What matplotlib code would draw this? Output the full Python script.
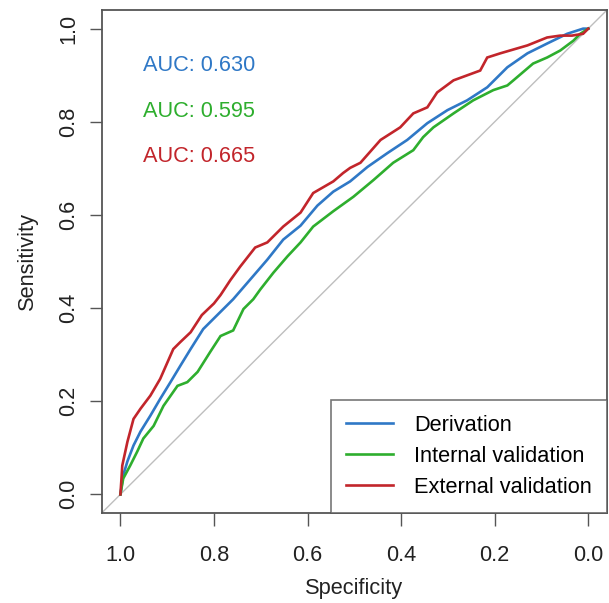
import matplotlib
matplotlib.use("Agg")
import matplotlib.pyplot as plt

plt.rcParams['font.family'] = ['Liberation Sans', 'DejaVu Sans']

# ---- data ----
spec_der = [1.0, 0.994, 0.985, 0.972, 0.957, 0.936, 0.915, 0.893, 0.872, 0.850, 0.823, 0.793,
            0.759, 0.722, 0.686, 0.652, 0.615, 0.579, 0.545, 0.509, 0.472, 0.429, 0.387, 0.344,
            0.301, 0.259, 0.216, 0.173, 0.130, 0.088, 0.045, 0.011, 0.0]
sens_der = [0.0, 0.041, 0.071, 0.105, 0.135, 0.169, 0.205, 0.241, 0.276, 0.312, 0.355, 0.385,
            0.419, 0.462, 0.504, 0.547, 0.577, 0.620, 0.650, 0.672, 0.703, 0.733, 0.761, 0.797,
            0.825, 0.846, 0.874, 0.917, 0.947, 0.968, 0.989, 1.0, 1.0]

spec_int = [1.0, 0.994, 0.979, 0.964, 0.951, 0.929, 0.908, 0.878, 0.857, 0.835, 0.808, 0.786,
            0.759, 0.737, 0.716, 0.701, 0.673, 0.643, 0.615, 0.588, 0.545, 0.502, 0.459, 0.417,
            0.374, 0.353, 0.331, 0.288, 0.246, 0.203, 0.173, 0.160, 0.118, 0.088, 0.060, 0.032,
            0.017, 0.0]
sens_int = [0.0, 0.034, 0.062, 0.092, 0.120, 0.147, 0.190, 0.233, 0.241, 0.263, 0.306, 0.340,
            0.352, 0.398, 0.419, 0.440, 0.476, 0.511, 0.541, 0.575, 0.608, 0.639, 0.675, 0.712,
            0.739, 0.767, 0.788, 0.818, 0.846, 0.868, 0.878, 0.889, 0.925, 0.938, 0.953, 0.974,
            0.989, 1.0]

spec_ext = [1.0, 0.998, 0.996, 0.985, 0.972, 0.957, 0.936, 0.915, 0.887, 0.872, 0.850, 0.826,
            0.800, 0.786, 0.765, 0.744, 0.712, 0.686, 0.652, 0.615, 0.588, 0.545, 0.524, 0.509,
            0.487, 0.444, 0.402, 0.374, 0.344, 0.323, 0.288, 0.231, 0.216, 0.188, 0.130, 0.088,
            0.060, 0.035, 0.011, 0.0]
sens_ext = [0.0, 0.030, 0.062, 0.113, 0.162, 0.184, 0.212, 0.248, 0.312, 0.327, 0.348, 0.385,
            0.410, 0.428, 0.460, 0.489, 0.530, 0.541, 0.575, 0.605, 0.647, 0.672, 0.690, 0.701,
            0.712, 0.761, 0.788, 0.818, 0.831, 0.863, 0.889, 0.910, 0.938, 0.947, 0.964, 0.981,
            0.985, 0.985, 0.989, 1.0]

series_names = ["Derivation", "Internal validation", "External validation"]
auc_values = [0.630, 0.595, 0.665]
tick_values = [1.0, 0.8, 0.6, 0.4, 0.2, 0.0]
tick_labels = ["1.0", "0.8", "0.6", "0.4", "0.2", "0.0"]

colors = ["#2F78C6", "#2EAE2E", "#C2252B"]
fs = 15.7

fig = plt.figure(figsize=(6.09, 6.03), dpi=100)
ax = fig.add_axes([101.7 / 609, 90 / 603, 505.3 / 609, 503 / 603])

ax.set_xlim(1.04, -0.04)
ax.set_ylim(-0.04, 1.04)

# diagonal reference
ax.plot([2.04, -1.04], [-1.04, 2.04], color="#BEBEBE", lw=1.0, zorder=1)

specs = [spec_der, spec_int, spec_ext]
senss = [sens_der, sens_int, sens_ext]
for s, se, c, name in zip(specs, senss, colors, series_names):
    ax.plot(s, se, color=c, lw=1.9, label=name, zorder=3, solid_joinstyle="miter")

# AUC labels
for i, (auc, c) in enumerate(zip(auc_values, colors)):
    ax.text(0.951, 0.920 - i * 0.097, f"AUC: {auc:.3f}", color=c, fontsize=fs,
            ha="left", va="center")

ax.set_xticks(tick_values)
ax.set_xticklabels(tick_labels)
ax.set_yticks(tick_values)
ax.set_yticklabels(tick_labels, rotation=90, va="center")
ax.tick_params(axis="both", length=9, width=1.0, color="#555555", labelsize=fs,
               labelcolor="#222222")
ax.tick_params(axis="x", pad=14)
ax.tick_params(axis="y", pad=7)

for sp in ax.spines.values():
    sp.set_color("#555555")
    sp.set_linewidth(1.3)

ax.set_xlabel("Specificity", fontsize=fs, color="#222222", labelpad=9)
ax.set_ylabel("Sensitivity", fontsize=fs, color="#222222", labelpad=15)

leg = ax.legend(loc="lower right", borderaxespad=0, fontsize=fs, frameon=True,
                fancybox=False, edgecolor="#555555", handlelength=2.15,
                handletextpad=0.95, labelspacing=0.45, borderpad=0.7)
leg.get_frame().set_linewidth(1.2)

fig.savefig("out.png", dpi=100)
